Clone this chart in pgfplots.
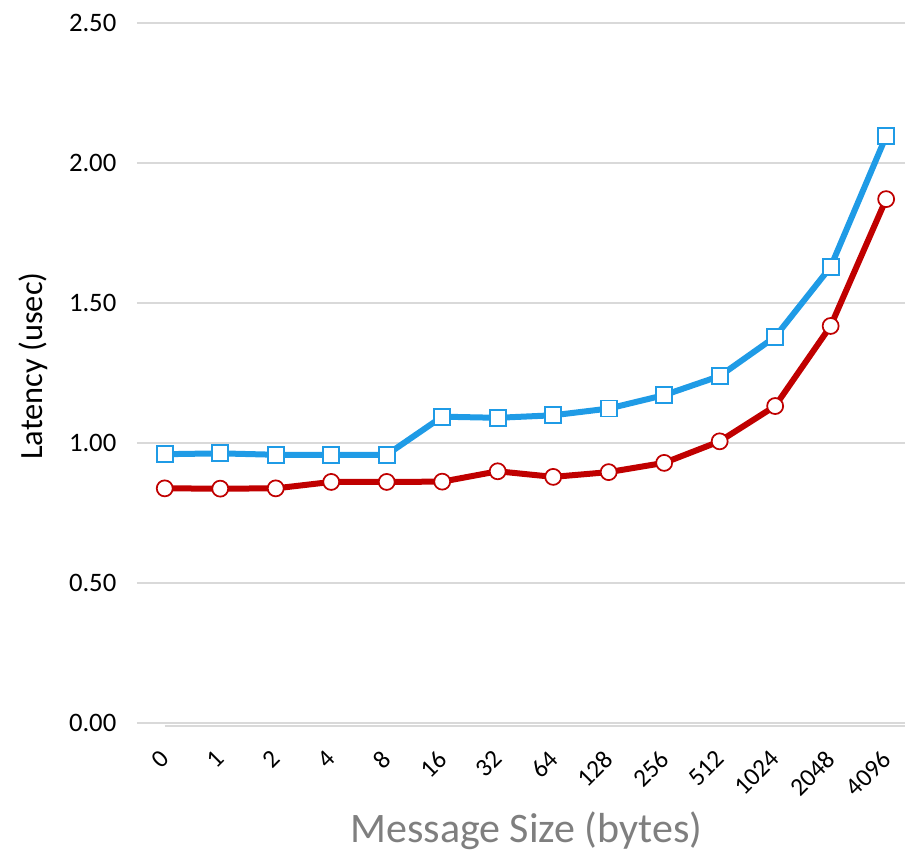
\documentclass[border=0pt]{standalone}
\usepackage{pgfplots}
\pgfplotsset{compat=1.18}
\usepackage{fontspec}
\setmainfont{Carlito}
\definecolor{bl}{HTML}{1F9BE6}
\definecolor{rd}{HTML}{C00000}
\definecolor{gr}{HTML}{D9D9D9}
\definecolor{lab}{HTML}{7F7F7F}
\begin{document}
\begin{tikzpicture}
\begin{axis}[
  name=ax,
  scale only axis,
  width=576pt, height=525pt,
  xmin=-0.5, xmax=13.34,
  ymin=0, ymax=2.5,
  ytick={0,0.5,1,1.5,2,2.5},
  /pgf/number format/fixed,
  /pgf/number format/fixed zerofill,
  /pgf/number format/precision=2,
  /pgf/number format/assume math mode=true,
  xtick={0,...,13},
  xticklabels={0,1,2,4,8,16,32,64,128,256,512,1024,2048,4096},
  xticklabel style={xshift=-4.5pt, yshift=-14.5pt, rotate=45, anchor=north east, font=\fontsize{19}{22}\selectfont},
  yticklabel style={font=\fontsize{20}{24}\selectfont, xshift=-12pt},
  major tick length=0pt,
  ymajorgrids, grid style={gr, line width=1.2pt},
  axis line style={draw=none},
  axis x line*=bottom,
  axis y line*=left,
  xlabel={Message Size (bytes)},
  xlabel style={at={(rel axis cs:0.507,-0.1714)}, anchor=base, font=\fontsize{31.5}{36}\selectfont, text=lab},
  ylabel={Latency (usec)},
  ylabel style={at={(rel axis cs:-0.1224,0.51)}, anchor=base, font=\fontsize{24.3}{28}\selectfont},
  clip=false,
]
\draw[gr, line width=1pt] (axis cs:-0.5,0) ++(0,-2.2pt) -- ++(576pt,0);
\addplot[rd, line width=4.5pt, mark=*, mark size=6pt, mark options={fill=white, draw=rd, line width=1.3pt}]
coordinates {(0,0.838) (1,0.837) (2,0.838) (3,0.861) (4,0.861) (5,0.862) (6,0.899) (7,0.879) (8,0.896) (9,0.929) (10,1.006) (11,1.132) (12,1.418) (13,1.871)};
\addplot[bl, line width=4.5pt, mark=square*, mark size=6pt, mark options={fill=white, draw=bl, line width=1.3pt}]
coordinates {(0,0.960) (1,0.963) (2,0.958) (3,0.958) (4,0.958) (5,1.094) (6,1.090) (7,1.099) (8,1.123) (9,1.171) (10,1.239) (11,1.379) (12,1.629) (13,2.096)};
\end{axis}
\pgfresetboundingbox
\path ([xshift=-102.75pt,yshift=-103.5pt]ax.south west) rectangle ([yshift=17.25pt]ax.north east);
\end{tikzpicture}
\end{document}
